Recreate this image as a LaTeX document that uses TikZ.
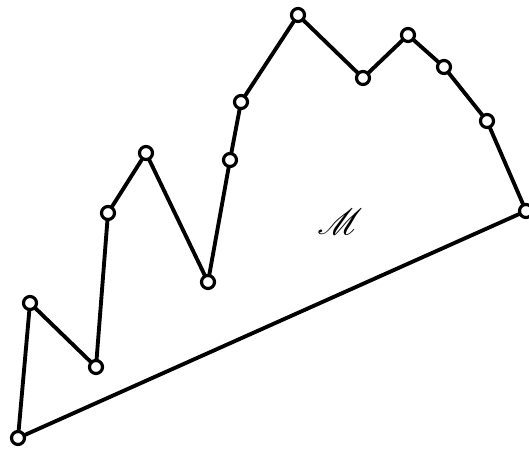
\documentclass[tikz,border=0pt]{standalone}
\usepackage{amsmath}
\usepackage{mathrsfs}
\usepackage{tikz}
\tikzset{
  vertice/.style={circle, draw=black, fill=white, line width=1.8pt, inner sep=0pt, minimum size=0.26cm},
  lado/.style={line width=2.2pt}
}

\begin{document}
\begin{tikzpicture}[x=0.02cm, y=-0.02cm]

    % Marco
    \useasboundingbox (0,0) rectangle (529,450);

    % 1. Vertices del poligono
    \foreach \n/\x/\y in {
        1/18/438, 2/30/303, 3/96/367, 4/108/213, 5/146/153,
        6/208/282, 7/230/160, 8/241/102, 9/298/15, 10/363/78,
        11/408/35, 12/444/67, 13/487/121, 14/526/211
    } {
        \coordinate (c\n) at (\x,\y);
    }

    % 2. Lados
    \draw[lado] (c1) -- (c2) -- (c3) -- (c4) -- (c5) -- (c6) -- (c7) -- (c8)
        -- (c9) -- (c10) -- (c11) -- (c12) -- (c13) -- (c14) -- (c1);

    % 3. Circulos
    \foreach \n in {1,...,14} {
        \node[vertice] (v\n) at (c\n) {};
    }

    % 4. Etiqueta
    \node[font=\huge] (M) at (340,222) {$\boldsymbol{\mathscr{M}}$};

\end{tikzpicture}
\end{document}
